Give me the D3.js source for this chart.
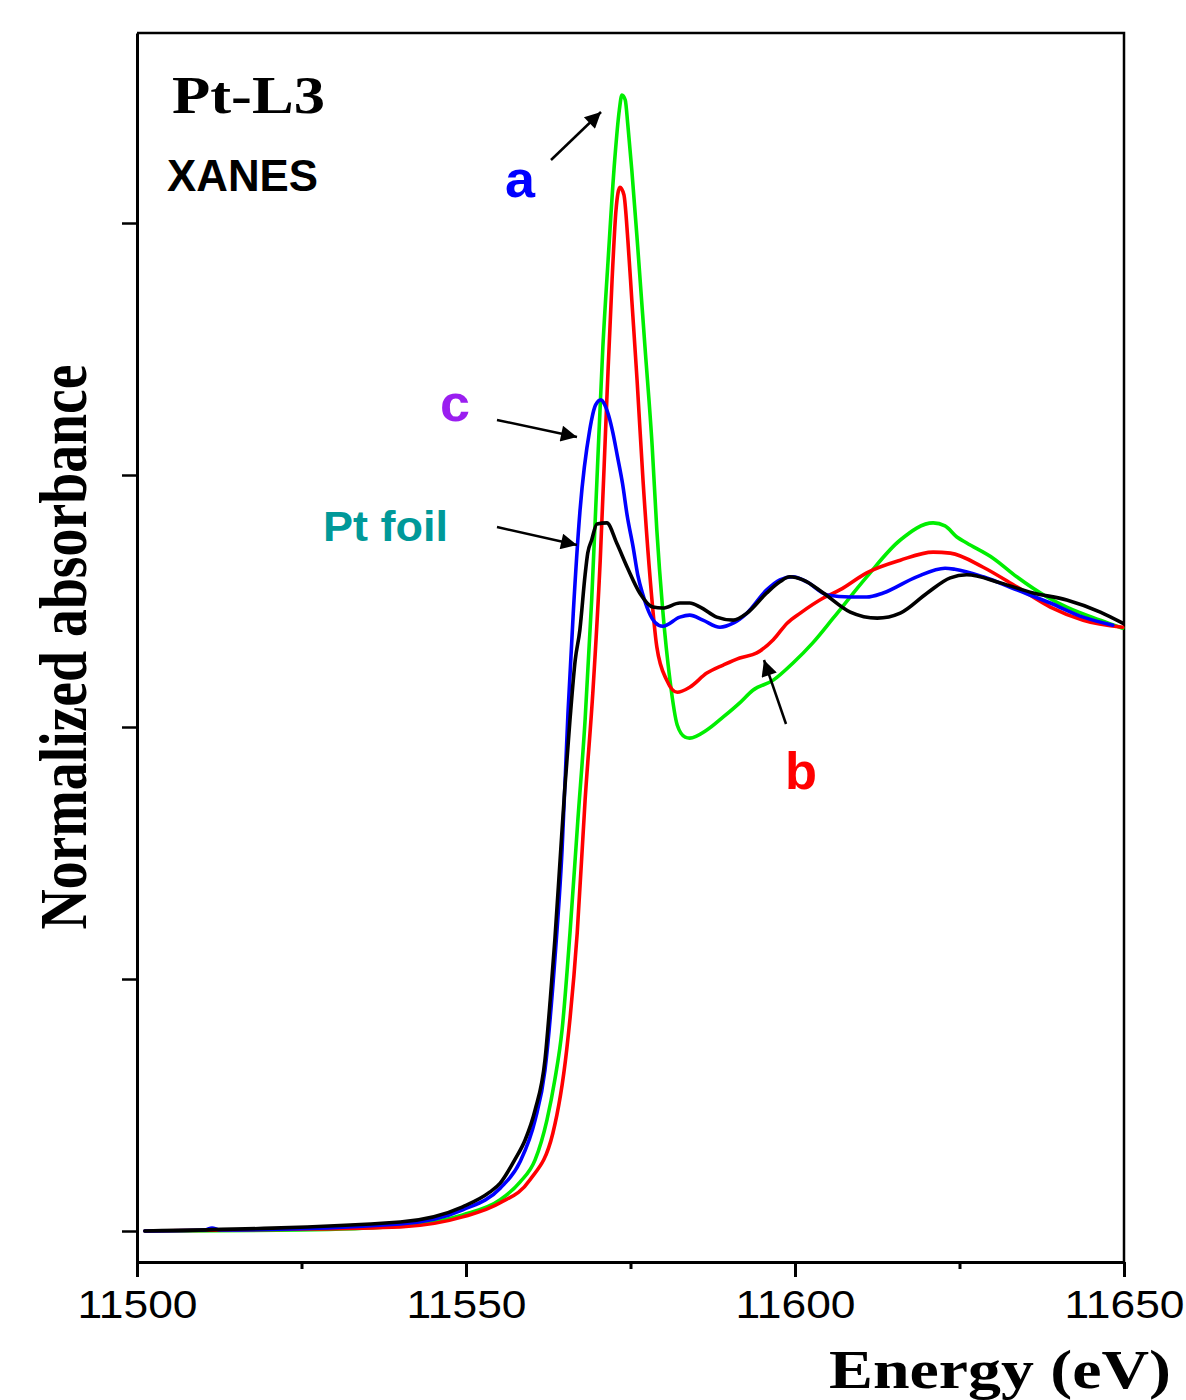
<!DOCTYPE html>
<html>
<head>
<meta charset="utf-8">
<script src="https://cdn.jsdelivr.net/npm/d3@7"></script>
<style>
  html, body { margin: 0; padding: 0; background: #fff; }
  svg { display: block; }
</style>
</head>
<body>
<svg id="chart" width="1186" height="1400"></svg>
<script>
// ---------- data (energy in eV, normalized absorbance) ----------
const xTickValues = [11500, 11550, 11600, 11650];
const xMinorTicks = [11525, 11575, 11625];
const yTickValues = [0, 0.5, 1.0, 1.5, 2.0];

const seriesA = [ // green, "a"
  [11501.2,0],[11524.8,0.002],[11540.0,0.010],[11549.5,0.032],[11555.2,0.062],
  [11558.2,0.097],[11560.5,0.141],[11562.3,0.220],[11563.5,0.300],[11564.6,0.399],
  [11565.8,0.591],[11567.0,0.815],[11568.1,1.014],[11569.1,1.252],[11569.9,1.490],
  [11570.8,1.754],[11571.6,1.927],[11572.6,2.125],[11573.3,2.224],[11573.7,2.254],
  [11574.2,2.244],[11574.6,2.194],[11575.2,2.105],[11576.1,1.952],[11577.2,1.754],
  [11578.3,1.556],[11579.0,1.391],[11579.9,1.232],[11581.0,1.093],[11582.1,1.004],
  [11583.3,0.980],[11584.0,0.978],[11586.6,0.994],[11589.1,1.020],[11591.6,1.048],
  [11593.6,1.073],[11596.7,1.093],[11599.7,1.127],[11602.7,1.167],[11605.8,1.216],
  [11610.9,1.298],[11616.0,1.371],[11621.0,1.405],[11622.8,1.399],[11624.6,1.377],
  [11626.1,1.365],[11630.1,1.335],[11633.7,1.298],[11638.3,1.258],[11641.3,1.238],
  [11646.4,1.212],[11649.8,1.196]
];
const seriesB = [ // red, "b"
  [11501.2,0],[11521.7,0.003],[11540.0,0.008],[11549.5,0.028],[11555.2,0.056],
  [11559.7,0.101],[11563.2,0.194],[11565.3,0.359],[11566.9,0.591],[11568.1,0.855],
  [11569.3,1.073],[11570.4,1.331],[11571.4,1.649],[11572.2,1.887],[11572.8,2.026],
  [11573.4,2.071],[11574.0,2.056],[11574.6,1.966],[11575.2,1.847],[11576.0,1.688],
  [11576.9,1.490],[11578.0,1.292],[11579.0,1.159],[11580.5,1.093],[11582.1,1.069],
  [11584.0,1.079],[11586.6,1.107],[11589.1,1.123],[11591.6,1.137],[11594.2,1.147],
  [11596.7,1.173],[11598.8,1.206],[11600.8,1.226],[11604.3,1.256],[11606.8,1.272],
  [11610.9,1.306],[11616.0,1.331],[11621.0,1.347],[11623.6,1.345],[11628.6,1.317],
  [11633.7,1.278],[11638.8,1.238],[11643.8,1.212],[11649.8,1.198]
];
const seriesC = [ // blue, "c"
  [11501.2,0],[11510.3,0.002],[11511.4,0.006],[11512.6,0.002],[11540.0,0.014],
  [11549.5,0.042],[11555.2,0.085],[11558.2,0.137],[11560.5,0.220],[11562.0,0.319],
  [11563.5,0.538],[11564.6,0.756],[11565.5,1.028],[11566.3,1.226],[11567.3,1.425],
  [11568.8,1.589],[11569.7,1.639],[11570.5,1.649],[11571.1,1.639],[11571.7,1.617],
  [11572.3,1.585],[11573.0,1.538],[11573.8,1.482],[11574.5,1.419],[11575.4,1.357],
  [11576.1,1.302],[11576.9,1.262],[11577.8,1.228],[11578.7,1.208],[11579.9,1.200],
  [11582.5,1.218],[11584.0,1.222],[11586.0,1.212],[11588.6,1.198],[11590.6,1.206],
  [11592.7,1.226],[11595.7,1.272],[11597.7,1.292],[11599.7,1.298],[11601.8,1.288],
  [11604.9,1.262],[11608.4,1.258],[11610.9,1.258],[11613.4,1.266],[11618.5,1.298],
  [11622.8,1.315],[11624.3,1.313],[11628.6,1.298],[11633.7,1.272],[11638.8,1.246],
  [11643.8,1.218],[11648.3,1.202]
];
const seriesFoil = [ // black, "Pt foil"
  [11501.2,0],[11540.0,0.018],[11549.5,0.048],[11553.6,0.077],[11555.2,0.095],
  [11557.4,0.141],[11559.0,0.181],[11560.5,0.240],[11562.0,0.339],[11562.8,0.458],
  [11563.5,0.577],[11564.3,0.736],[11565.0,0.875],[11565.8,1.014],[11566.6,1.133],
  [11567.3,1.192],[11568.1,1.302],[11568.5,1.345],[11569.1,1.371],[11569.9,1.403],
  [11571.4,1.405],[11572.9,1.365],[11574.5,1.317],[11576.4,1.266],[11578.4,1.238],
  [11579.9,1.236],[11582.5,1.246],[11584.0,1.246],[11585.6,1.238],[11588.1,1.218],
  [11590.6,1.212],[11592.7,1.226],[11595.7,1.266],[11597.7,1.288],[11599.2,1.298],
  [11601.2,1.292],[11604.3,1.266],[11608.4,1.228],[11612.5,1.216],[11616.0,1.226],
  [11620.1,1.266],[11623.6,1.296],[11626.1,1.302],[11631.2,1.286],[11636.2,1.266],
  [11641.3,1.252],[11646.4,1.228],[11649.8,1.206]
];

const seriesList = [
  { name: "a", data: seriesA, color: "#00ee00" },
  { name: "b", data: seriesB, color: "#ff0000" },
  { name: "c", data: seriesC, color: "#0000ff" },
  { name: "Pt foil", data: seriesFoil, color: "#000000" }
];

// ---------- layout ----------
const svg = d3.select("#chart");
const mLeft = 137, mRight = 1124, mTop = 33, mBottom = 1262;

const x = d3.scaleLinear().domain([11500, 11650]).range([mLeft, mRight]);
const y = d3.scaleLinear().domain([-0.0615, 2.377]).range([mBottom, mTop]);

// frame (top and right)
svg.append("path")
  .attr("d", `M${mLeft},${mTop}H${mRight}V${mBottom}`)
  .attr("fill", "none").attr("stroke", "#000").attr("stroke-width", 2.5);

// curves
const line = d3.line().x(d => x(d[0])).y(d => y(d[1])).curve(d3.curveMonotoneX);
svg.append("g").selectAll("path").data(seriesList).join("path")
  .attr("d", d => line(d.data))
  .attr("fill", "none")
  .attr("stroke", d => d.color)
  .attr("stroke-width", 3.6)
  .attr("stroke-linejoin", "round")
  .attr("stroke-linecap", "round");

// x axis
const gx = svg.append("g").attr("transform", `translate(0,${mBottom})`)
  .call(d3.axisBottom(x).tickValues(xTickValues).tickSize(15).tickSizeOuter(0).tickPadding(14).tickFormat(d3.format("d")));
gx.select(".domain").attr("stroke-width", 3);
gx.selectAll(".tick line").attr("stroke-width", 3);
gx.selectAll(".tick text")
  .attr("font-family", "Liberation Sans, Arial, sans-serif")
  .attr("font-size", 38)
  .attr("fill", "#000")
  .attr("textLength", 120)
  .attr("lengthAdjust", "spacingAndGlyphs")
  .attr("dy", "0.71em");
const gxm = svg.append("g").attr("transform", `translate(0,${mBottom})`)
  .call(d3.axisBottom(x).tickValues(xMinorTicks).tickSize(7).tickSizeOuter(0).tickFormat(""));
gxm.select(".domain").remove();
gxm.selectAll(".tick line").attr("stroke-width", 3);

// y axis
const gy = svg.append("g").attr("transform", `translate(${mLeft},0)`)
  .call(d3.axisLeft(y).tickValues(yTickValues).tickSize(15).tickSizeOuter(0).tickFormat(""));
gy.select(".domain").attr("stroke-width", 3);
gy.selectAll(".tick line").attr("stroke-width", 2.5);

// axis titles
svg.append("text")
  .attr("x", 829).attr("y", 1388)
  .attr("font-family", "Liberation Serif, Times New Roman, serif")
  .attr("font-weight", "bold").attr("font-size", 54)
  .attr("textLength", 342).attr("lengthAdjust", "spacingAndGlyphs")
  .text("Energy (eV)");
svg.append("text")
  .attr("transform", "translate(86,647) rotate(-90)")
  .attr("text-anchor", "middle")
  .attr("font-family", "Liberation Serif, Times New Roman, serif")
  .attr("font-weight", "bold").attr("font-size", 67)
  .attr("textLength", 565).attr("lengthAdjust", "spacingAndGlyphs")
  .text("Normalized absorbance");

// in-plot labels
svg.append("text")
  .attr("x", 172).attr("y", 113)
  .attr("font-family", "Liberation Serif, Times New Roman, serif")
  .attr("font-weight", "bold").attr("font-size", 52)
  .attr("textLength", 153).attr("lengthAdjust", "spacingAndGlyphs")
  .text("Pt-L3");
svg.append("text")
  .attr("x", 167).attr("y", 191)
  .attr("font-family", "Liberation Sans, Arial, sans-serif")
  .attr("font-weight", "bold").attr("font-size", 44)
  .attr("textLength", 151).attr("lengthAdjust", "spacingAndGlyphs")
  .text("XANES");

const labels = [
  { text: "a", x: 505, y: 197, color: "#0000ff", size: 52, len: 30 },
  { text: "c", x: 440, y: 421, color: "#9a1ef0", size: 52, len: 30 },
  { text: "Pt foil", x: 323, y: 541, color: "#009999", size: 42, len: 125 },
  { text: "b", x: 785, y: 789, color: "#ff0000", size: 52, len: 32 }
];
svg.append("g").selectAll("text").data(labels).join("text")
  .attr("x", d => d.x).attr("y", d => d.y)
  .attr("font-family", "Liberation Sans, Arial, sans-serif")
  .attr("font-weight", "bold")
  .attr("font-size", d => d.size)
  .attr("fill", d => d.color)
  .attr("textLength", d => d.len)
  .attr("lengthAdjust", "spacingAndGlyphs")
  .text(d => d.text);

// arrows
const defs = svg.append("defs");
defs.append("marker")
  .attr("id", "arrowhead")
  .attr("viewBox", "0 0 10 10")
  .attr("refX", 10).attr("refY", 5)
  .attr("markerWidth", 24).attr("markerHeight", 16)
  .attr("markerUnits", "userSpaceOnUse")
  .attr("orient", "auto")
  .append("path").attr("d", "M0,0L10,5L0,10Z").attr("fill", "#000");

const arrows = [
  { x1: 551, y1: 160, x2: 601, y2: 112 },
  { x1: 497, y1: 420, x2: 577, y2: 437 },
  { x1: 497, y1: 527, x2: 577, y2: 545 },
  { x1: 786, y1: 724, x2: 764, y2: 660 }
];
svg.append("g").selectAll("line").data(arrows).join("line")
  .attr("x1", d => d.x1).attr("y1", d => d.y1)
  .attr("x2", d => d.x2).attr("y2", d => d.y2)
  .attr("stroke", "#000").attr("stroke-width", 2.5)
  .attr("marker-end", "url(#arrowhead)");
</script>
</body>
</html>
